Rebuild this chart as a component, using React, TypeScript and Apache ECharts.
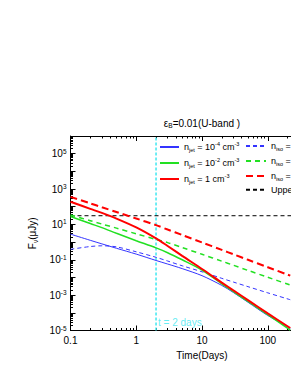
import React, { useEffect, useRef } from 'react';
import * as echarts from 'echarts';

// Time axis sample points (days)
const timeDays = [0.1, 0.2, 0.3, 0.5, 1, 2, 3, 5, 10, 20, 30, 50, 100, 220];

// Flux density F_nu (uJy)
const fluxJet4 = [2.82, 1.26, 0.794, 0.447, 0.209, 0.0912, 0.0575, 0.0316, 0.0126, 0.00355, 0.00141, 3.98e-4, 7.08e-5, 1.32e-5];
const fluxJet2 = [28.2, 11.2, 6.61, 3.16, 1.2, 0.468, 0.251, 0.1, 0.0263, 0.00437, 0.00158, 4.37e-4, 7.94e-5, 1.05e-5];
const fluxJet0 = [190.5, 75.9, 44.7, 21.4, 6.76, 1.62, 0.603, 0.166, 0.0302, 0.00513, 0.00186, 5.25e-4, 9.33e-5, 1.38e-5];
const fluxIso4 = [0.389, 0.562, 0.617, 0.537, 0.282, 0.138, 0.0851, 0.0457, 0.0209, 0.00891, 0.0055, 0.00302, 0.00135, 5.5e-4];
const fluxIso2 = [33.9, 16.2, 10.5, 6.17, 2.95, 1.41, 0.933, 0.49, 0.204, 0.0832, 0.049, 0.0251, 0.0102, 0.00372];
const fluxIso0 = [363, 155, 93.3, 50.1, 21.4, 9.12, 5.13, 2.51, 0.955, 0.363, 0.204, 0.1, 0.038, 0.0126];

const upperLimit = 31;
const upperTimes = [0.1, 1000];
const tMarkDays = 2;
const tMarkLabelFlux = 3e-5;

const xRange = [0.1, 1000];
const yRange = [1e-5, 1e6];
const xTickLabels = ['0.1', '1', '10', '100', ''];

const seriesNames = [
  'n_jet = 10^-4 cm^-3',
  'n_jet = 10^-2 cm^-3',
  'n_jet = 1 cm^-3',
  'n_iso = 10^-4 cm^-3',
  'n_iso = 10^-2 cm^-3',
  'n_iso = 1 cm^-3',
  'Upper limit',
];

const richNames: Record<string, string> = {
  'n_jet = 10^-4 cm^-3': '{b|n}{u|jet}{b| = 10}{s|-4}{b| cm}{s|-3}',
  'n_jet = 10^-2 cm^-3': '{b|n}{u|jet}{b| = 10}{s|-2}{b| cm}{s|-3}',
  'n_jet = 1 cm^-3': '{b|n}{u|jet}{b| = 1 cm}{s|-3}',
  'n_iso = 10^-4 cm^-3': '{b|n}{u|iso}{b| = 10}{s|-4}{b| cm}{s|-3}',
  'n_iso = 10^-2 cm^-3': '{b|n}{u|iso}{b| = 10}{s|-2}{b| cm}{s|-3}',
  'n_iso = 1 cm^-3': '{b|n}{u|iso}{b| = 1 cm}{s|-3}',
  'Upper limit': '{b|Upper limit}',
};

const lg = Math.log10;
const toXY = (t: number[], f: number[]) => t.map((v, i) => [lg(v), lg(f[i])]);

const FONT = 'Liberation Sans';
const CHART_W = 340;
const CHART_H = 376;

const rich = {
  b: { fontSize: 10, lineHeight: 12, color: '#000', fontFamily: FONT },
  s: { fontSize: 6.5, lineHeight: 7, verticalAlign: 'top', color: '#000', fontFamily: FONT },
  u: { fontSize: 6.5, lineHeight: 7, verticalAlign: 'bottom', color: '#000', fontFamily: FONT },
};

const legendRich = {
  b: { fontSize: 9, lineHeight: 12, color: '#000', fontFamily: FONT },
  s: { fontSize: 5.5, lineHeight: 6, verticalAlign: 'top', color: '#000', fontFamily: FONT },
  u: { fontSize: 5.5, lineHeight: 6, verticalAlign: 'bottom', color: '#000', fontFamily: FONT },
};

function minorTicks(d0: number, d1: number) {
  const out: number[] = [];
  for (let d = d0; d < d1; d++) {
    for (let k = 2; k <= 9; k++) out.push(d + lg(k));
  }
  return out;
}

export default function App() {
  const ref = useRef<HTMLDivElement>(null);
  useEffect(() => {
    if (!ref.current) return;
    const chart = echarts.init(ref.current, undefined, { renderer: 'svg' });
    const xMin = lg(xRange[0]);
    const xMax = lg(xRange[1]);
    const yMin = lg(yRange[0]);
    const yMax = lg(yRange[1]);
    const xMinor = minorTicks(xMin, xMax);
    const yMinor = minorTicks(yMin, yMax);

    const lineSeries = (name: string, data: number[][], color: string, width: number, type: any) => ({
      name,
      type: 'line',
      data,
      symbol: 'none',
      showSymbol: false,
      smooth: 0.3,
      lineStyle: { color, width, type },
      itemStyle: { color },
      z: 3,
    });

    const baseAxisX = {
      type: 'value',
      min: xMin,
      max: xMax,
      gridIndex: 0,
      splitLine: { show: false },
    };
    const baseAxisY = {
      type: 'value',
      min: yMin,
      max: yMax,
      gridIndex: 0,
      splitLine: { show: false },
    };

    const option: any = {
      animation: false,
      textStyle: { fontFamily: FONT },
      grid: { left: 70.5, top: 136, right: CHART_W - 333.5, bottom: 45.5 },
      xAxis: [
        {
          ...baseAxisX,
          interval: 1,
          position: 'bottom',
          axisLine: { onZero: false, lineStyle: { color: '#000', width: 1 } },
          axisTick: { inside: true, length: 5, lineStyle: { color: '#000' } },
          axisLabel: {
            color: '#000',
            fontSize: 10,
            margin: 5,
            fontFamily: FONT,
            formatter: (v: number) => xTickLabels[Math.round(v - xMin)] ?? '',
          },
          name: 'Time(Days)',
          nameLocation: 'middle',
          nameGap: 14,
          nameTextStyle: { color: '#000', fontSize: 10, fontFamily: FONT, verticalAlign: 'top' },
        },
        {
          ...baseAxisX,
          position: 'bottom',
          axisLine: { show: false, onZero: false },
          axisTick: { inside: true, length: 2.5, customValues: xMinor, lineStyle: { color: '#000' } },
          axisLabel: { show: false },
        },
        {
          ...baseAxisX,
          interval: 1,
          position: 'top',
          axisLine: { onZero: false, lineStyle: { color: '#000', width: 1 } },
          axisTick: { inside: true, length: 5, lineStyle: { color: '#000' } },
          axisLabel: { show: false },
          name: '{b|ε}{u|B}{b|=0.01(U-band )}',
          nameLocation: 'middle',
          nameGap: 7,
          nameTextStyle: { rich },
        },
        {
          ...baseAxisX,
          position: 'top',
          axisLine: { show: false, onZero: false },
          axisTick: { inside: true, length: 2.5, customValues: xMinor, lineStyle: { color: '#000' } },
          axisLabel: { show: false },
        },
      ],
      yAxis: [
        {
          ...baseAxisY,
          interval: 1,
          position: 'left',
          axisLine: { onZero: false, lineStyle: { color: '#000', width: 1 } },
          axisTick: { inside: true, length: 5, lineStyle: { color: '#000' } },
          axisLabel: {
            margin: 4,
            formatter: (v: number) => {
              const e = Math.round(v);
              if (e % 2 === 0 || e >= yMax) return '';
              return '{b|10}{s|' + e + '}';
            },
            rich,
          },
          name: '{b|F}{u|ν}{b|(μJy)}',
          nameLocation: 'middle',
          nameGap: 26,
          nameRotate: 90,
          nameTextStyle: { rich },
        },
        {
          ...baseAxisY,
          position: 'left',
          axisLine: { show: false, onZero: false },
          axisTick: { inside: true, length: 2.5, customValues: yMinor, lineStyle: { color: '#000' } },
          axisLabel: { show: false },
        },
        {
          ...baseAxisY,
          interval: 1,
          position: 'right',
          axisLine: { onZero: false, lineStyle: { color: '#000', width: 1 } },
          axisTick: { inside: true, length: 5, lineStyle: { color: '#000' } },
          axisLabel: { show: false },
        },
      ],
      legend: [
        {
          data: seriesNames.slice(0, 3),
          orient: 'vertical',
          left: 159,
          top: 141,
          itemWidth: 19,
          itemHeight: 12,
          itemGap: 4,
          padding: 0,
          itemStyle: { opacity: 0 },
          formatter: (n: string) => richNames[n],
          textStyle: { rich: legendRich },
        },
        {
          data: seriesNames.slice(3),
          orient: 'vertical',
          left: 245,
          top: 140,
          itemWidth: 20,
          itemHeight: 12,
          itemGap: 3,
          padding: 0,
          itemStyle: { opacity: 0 },
          formatter: (n: string) => richNames[n],
          textStyle: { rich: legendRich },
        },
      ],
      series: [
        {
          name: 't-mark',
          type: 'line',
          data: [[lg(tMarkDays), yMin], [lg(tMarkDays), yMax]],
          symbol: 'none',
          lineStyle: { color: '#3ee8f0', width: 1.5, type: [3, 2] },
          z: 1,
        },
        {
          name: 't-label',
          type: 'scatter',
          data: [[lg(tMarkDays), lg(tMarkLabelFlux)]],
          symbolSize: 0,
          label: {
            show: true,
            position: 'right',
            distance: 2,
            formatter: 't = 2 days',
            color: '#3ee8f0',
            fontSize: 10,
            fontFamily: FONT,
          },
          z: 1,
        },
        {
          name: 'Upper limit',
          type: 'line',
          data: upperTimes.map((t) => [lg(t), lg(upperLimit)]),
          symbol: 'none',
          lineStyle: { color: '#000', width: 1, type: [4, 3] },
          itemStyle: { color: '#000' },
          z: 2,
        },
        lineSeries(seriesNames[3], toXY(timeDays, fluxIso4), '#3434ff', 1, [4, 3]),
        lineSeries(seriesNames[4], toXY(timeDays, fluxIso2), '#22e022', 1.5, [5, 4]),
        lineSeries(seriesNames[5], toXY(timeDays, fluxIso0), '#ff0000', 2, [7, 4]),
        lineSeries(seriesNames[0], toXY(timeDays, fluxJet4), '#3434ff', 1, 'solid'),
        lineSeries(seriesNames[1], toXY(timeDays, fluxJet2), '#22e022', 1.5, 'solid'),
        lineSeries(seriesNames[2], toXY(timeDays, fluxJet0), '#ff0000', 2, 'solid'),
      ],
    };
    chart.setOption(option);
    return () => chart.dispose();
  }, []);
  return (
    <div
      ref={ref}
      style={{ position: 'fixed', left: 0, top: 0, width: CHART_W, height: CHART_H, background: '#fff' }}
    />
  );
}
